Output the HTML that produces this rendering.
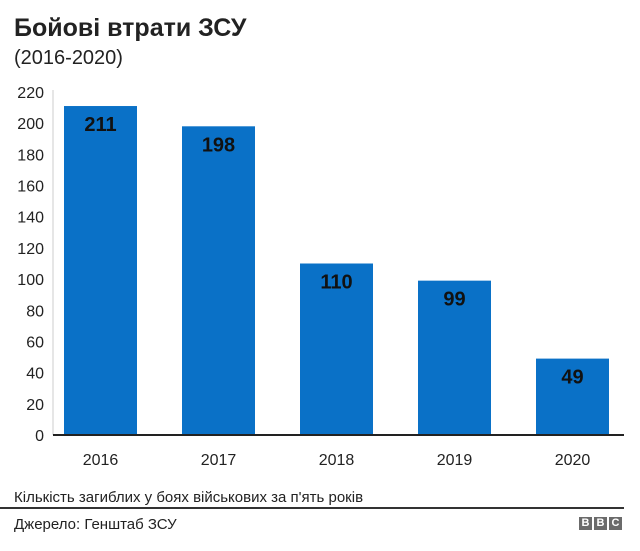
<!DOCTYPE html>
<html><head><meta charset="utf-8"><style>
body{margin:0;width:640px;height:551px;background:#fff;font-family:"Liberation Sans",sans-serif;overflow:hidden;position:relative}
.t{position:absolute;color:#222}
</style></head><body>
<div class="t" style="left:14px;top:14px;font-size:25px;font-weight:bold">Бойові втрати ЗСУ</div>
<div class="t" style="left:14px;top:47px;font-size:20px">(2016-2020)</div>
<svg id="c" width="640" height="500" style="position:absolute;left:0;top:0"></svg>
<div class="t" style="left:14px;top:489px;font-size:15px">Кількість загиблих у боях військових за п'ять років</div>
<div style="position:absolute;left:0;top:507px;width:624px;height:2px;background:#333"></div>
<div class="t" style="left:14px;top:516px;font-size:15px">Джерело: Генштаб ЗСУ</div>
<div style="position:absolute;left:579px;top:517px;display:flex;gap:2px">
<span style="width:13px;height:13px;background:#6b6b6b;color:#fff;font:bold 11px 'Liberation Sans';text-align:center;line-height:13px">B</span>
<span style="width:13px;height:13px;background:#6b6b6b;color:#fff;font:bold 11px 'Liberation Sans';text-align:center;line-height:13px">B</span>
<span style="width:13px;height:13px;background:#6b6b6b;color:#fff;font:bold 11px 'Liberation Sans';text-align:center;line-height:13px">C</span>
</div>
<script>
const categories=["2016","2017","2018","2019","2020"];
const values=[211,198,110,99,49];
const ticks=[0,20,40,60,80,100,120,140,160,180,200,220];
const svg=document.getElementById('c');const NS="http://www.w3.org/2000/svg";
const y0=435,y1=92,vmax=220;
const y=v=>y0-(v/vmax)*(y0-y1);
const x=i=>64+i*118;const bw=73;
function mk(t,a){const e=document.createElementNS(NS,t);for(const k in a)e.setAttribute(k,a[k]);svg.appendChild(e);return e;}
ticks.forEach(t=>{const e=mk('text',{x:44,y:y(t)+6,'text-anchor':'end','font-size':16,fill:'#222','font-family':'Liberation Sans'});e.textContent=t;

});
const ax=mk('line',{x1:53,x2:53,y1:90,y2:435,stroke:'#ccc','stroke-width':1});


categories.forEach((c,i)=>{
const r=mk('rect',{x:x(i),y:y(values[i]),width:bw,height:y0-y(values[i]),fill:'#0a71c7'});


const l=mk('text',{x:x(i)+bw/2,y:y(values[i])+25,'text-anchor':'middle','font-size':20,'font-weight':'bold',fill:'#111','font-family':'Liberation Sans'});l.textContent=values[i];


const xl=mk('text',{x:x(i)+bw/2,y:465,'text-anchor':'middle','font-size':16,fill:'#222','font-family':'Liberation Sans'});xl.textContent=c;


});
const b=mk('line',{x1:53,x2:624,y1:435,y2:435,stroke:'#222','stroke-width':2});


</script>
</body></html>
